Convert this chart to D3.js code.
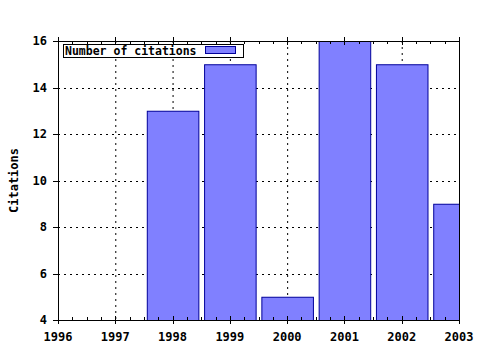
<!DOCTYPE html>
<html><head><meta charset="utf-8">
<script src="https://cdn.jsdelivr.net/npm/d3@7"></script>
<style>body{margin:0;background:#fff}</style>
</head><body>
<script>
const years = [1998, 1999, 2000, 2001, 2002, 2003];
const citations = [13, 15, 5, 16, 15, 9];
const xTicks = [1996, 1997, 1998, 1999, 2000, 2001, 2002, 2003];
const yTicks = [4, 6, 8, 10, 12, 14, 16];
const seriesName = "Number of citations";
const yLabel = "Citations";

const W = 480, H = 350;
const m = {l: 58, r: 21, t: 41, b: 30};
const font = "'DejaVu Sans Mono', monospace";
const svg = d3.select("body").append("svg").attr("width", W).attr("height", H);
const x = d3.scaleLinear().domain([1996, 2003]).range([m.l, W - m.r]);
const y = d3.scaleLinear().domain([4, 16]).range([H - m.b, m.t]);

svg.append("defs").append("clipPath").attr("id", "clip")
  .append("rect").attr("x", m.l).attr("y", m.t).attr("width", x(2003) - m.l).attr("height", y(4) - m.t);

// grid
const g = svg.append("g").attr("stroke", "#000").attr("stroke-dasharray", "2,4").attr("stroke-width", 1);
xTicks.slice(1, -1).forEach(v => g.append("line").attr("x1", x(v) + 0.5).attr("x2", x(v) + 0.5).attr("y1", y(16)).attr("y2", y(4)));
yTicks.slice(1, -1).forEach(v => g.append("line").attr("x1", x(1996)).attr("x2", x(2003)).attr("y1", Math.round(y(v)) + 0.5).attr("y2", Math.round(y(v)) + 0.5));

// bars
const bw = (x(1) - x(0)) * 0.9;
svg.append("g").attr("clip-path", "url(#clip)").selectAll("rect").data(years).join("rect")
  .attr("x", (d) => x(d) - bw / 2 + 0.5)
  .attr("width", bw)
  .attr("y", (d, i) => y(citations[i]) + 0.5)
  .attr("height", (d, i) => y(4) - y(citations[i]))
  .attr("fill", "#8080ff").attr("stroke", "#00009a").attr("stroke-width", 1);

// border
svg.append("rect").attr("x", x(1996) + 0.5).attr("y", y(16) + 0.5).attr("width", x(2003) - x(1996)).attr("height", y(4) - y(16))
  .attr("fill", "none").attr("stroke", "#000");

// ticks
const t = svg.append("g").attr("stroke", "#000");
const minor = d3.range(1996, 2003.01, 0.25);
minor.forEach(v => {
  const major = Math.abs(v - Math.round(v)) < 1e-6;
  const xx = Math.round(x(v)) + 0.5;
  if (major) {
    t.append("line").attr("x1", xx).attr("x2", xx).attr("y1", y(4) - 4).attr("y2", y(4) + 4);
    t.append("line").attr("x1", xx).attr("x2", xx).attr("y1", y(16) - 4).attr("y2", y(16) + 4);
  } else {
    t.append("line").attr("x1", xx).attr("x2", xx).attr("y1", y(4) - 3).attr("y2", y(4));
    t.append("line").attr("x1", xx).attr("x2", xx).attr("y1", y(16)).attr("y2", y(16) + 3);
  }
});
yTicks.forEach(v => {
  const yy = Math.round(y(v)) + 0.5;
  t.append("line").attr("x1", x(1996) - 5).attr("x2", x(1996)).attr("y1", yy).attr("y2", yy);
});

// labels
const lab = svg.append("g").attr("font-family", font).attr("font-weight", "bold").attr("font-size", "12px").attr("fill", "#000");
xTicks.forEach(v => lab.append("text").attr("x", x(v)).attr("y", 341).attr("text-anchor", "middle").text(v));
yTicks.forEach(v => lab.append("text").attr("x", 47).attr("y", y(v) + 4).attr("text-anchor", "end").text(v));
lab.append("text").attr("transform", `translate(18,${(y(4) + y(16)) / 2}) rotate(-90)`).attr("text-anchor", "middle").text(yLabel);

// legend
const lg = svg.append("g");
lg.append("rect").attr("x", 63.5).attr("y", 44.5).attr("width", 180).attr("height", 13).attr("fill", "#fff").attr("stroke", "#000");
lg.append("text").attr("x", 65).attr("y", 55).attr("font-family", font).attr("font-weight", "bold").attr("font-size", "11.5px").attr("fill", "#000").text(seriesName);
lg.append("rect").attr("x", 205.5).attr("y", 46.5).attr("width", 30).attr("height", 7).attr("fill", "#8080ff").attr("stroke", "#00009a");
</script>
</body></html>
